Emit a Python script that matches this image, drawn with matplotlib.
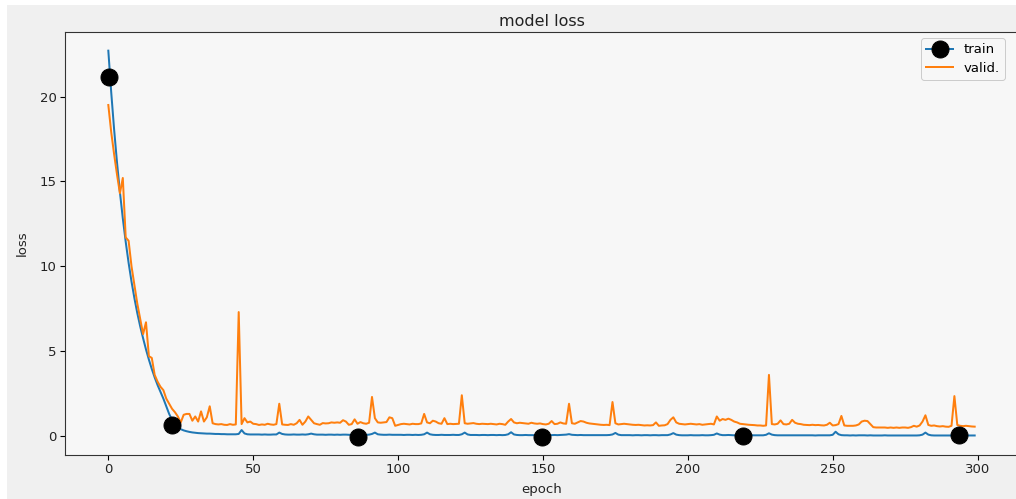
import numpy as np
import matplotlib
matplotlib.use('Agg')
import matplotlib.pyplot as plt
from matplotlib.lines import Line2D
from matplotlib.patches import Rectangle

# loss per epoch
train_loss = [
    22.7, 20.25, 18.06, 16.11, 14.37, 12.82, 11.44, 10.2, 9.1, 8.12,
    7.24, 6.46, 5.76, 5.1, 4.5, 3.95, 3.45, 3.0, 2.6, 2.2,
    1.75, 1.3, 0.95, 0.7, 0.52, 0.4, 0.33, 0.28, 0.24, 0.21,
    0.19, 0.17, 0.16, 0.15, 0.14, 0.14, 0.13, 0.12, 0.12, 0.11,
    0.11, 0.1, 0.1, 0.1, 0.1, 0.12, 0.35, 0.15, 0.1, 0.09,
    0.09, 0.09, 0.09, 0.08, 0.09, 0.08, 0.08, 0.09, 0.09, 0.2,
    0.12, 0.09, 0.08, 0.08, 0.09, 0.08, 0.08, 0.09, 0.08, 0.1,
    0.14, 0.1, 0.08, 0.08, 0.08, 0.07, 0.08, 0.08, 0.07, 0.08,
    0.07, 0.08, 0.08, 0.07, 0.07, 0.08, 0.07, 0.07, 0.08, 0.07,
    0.08, 0.12, 0.2, 0.1, 0.08, 0.07, 0.07, 0.08, 0.07, 0.07,
    0.07, 0.07, 0.06, 0.07, 0.07, 0.06, 0.07, 0.06, 0.07, 0.1,
    0.2, 0.1, 0.07, 0.06, 0.06, 0.07, 0.06, 0.06, 0.06, 0.07,
    0.06, 0.06, 0.1, 0.2, 0.09, 0.06, 0.06, 0.06, 0.05, 0.06,
    0.06, 0.05, 0.06, 0.06, 0.05, 0.06, 0.05, 0.06, 0.1, 0.22,
    0.09, 0.06, 0.05, 0.05, 0.06, 0.05, 0.05, 0.05, 0.06, 0.05,
    0.05, 0.06, 0.05, 0.05, 0.06, 0.05, 0.06, 0.07, 0.08, 0.11,
    0.07, 0.06, 0.05, 0.06, 0.05, 0.05, 0.05, 0.05, 0.05, 0.05,
    0.05, 0.05, 0.05, 0.06, 0.09, 0.18, 0.08, 0.05, 0.05, 0.05,
    0.05, 0.04, 0.05, 0.05, 0.04, 0.05, 0.05, 0.04, 0.05, 0.05,
    0.04, 0.05, 0.05, 0.05, 0.09, 0.17, 0.08, 0.05, 0.04, 0.04,
    0.04, 0.05, 0.04, 0.04, 0.04, 0.05, 0.04, 0.04, 0.05, 0.07,
    0.15, 0.08, 0.05, 0.05, 0.06, 0.05, 0.04, 0.04, 0.04, 0.04,
    0.04, 0.04, 0.04, 0.04, 0.04, 0.04, 0.04, 0.07, 0.16, 0.08,
    0.05, 0.04, 0.04, 0.04, 0.04, 0.04, 0.04, 0.04, 0.04, 0.04,
    0.04, 0.04, 0.04, 0.04, 0.03, 0.04, 0.04, 0.04, 0.04, 0.04,
    0.07, 0.25, 0.1, 0.05, 0.04, 0.04, 0.03, 0.04, 0.03, 0.04,
    0.04, 0.04, 0.03, 0.04, 0.03, 0.03, 0.03, 0.03, 0.04, 0.03,
    0.03, 0.03, 0.03, 0.03, 0.03, 0.03, 0.03, 0.03, 0.03, 0.03,
    0.04, 0.08, 0.2, 0.08, 0.04, 0.03, 0.03, 0.03, 0.03, 0.03,
    0.03, 0.03, 0.03, 0.03, 0.03, 0.03, 0.03, 0.03, 0.03, 0.03,
]

valid_loss = [
    19.5, 17.9, 16.6, 15.4, 14.3, 15.2, 11.7, 11.5, 10.0, 8.9,
    7.8, 6.9, 6.0, 6.7, 4.7, 4.6, 3.6, 3.2, 2.9, 2.7,
    2.2, 1.9, 1.6, 1.4, 1.15, 0.8, 1.25, 1.3, 1.3, 0.9,
    1.15, 0.85, 1.45, 0.85, 1.1, 1.75, 0.75, 0.7, 0.68, 0.7,
    0.66, 0.65, 0.7, 0.66, 0.68, 7.3, 0.7, 1.05, 0.8, 0.85,
    0.72, 0.7, 0.65, 0.68, 0.66, 0.72, 0.68, 0.66, 0.7, 1.9,
    0.68, 0.66, 0.65, 0.7, 0.66, 0.75, 0.95, 0.66, 0.85, 1.15,
    0.95, 0.75, 0.7, 0.66, 0.76, 0.74, 0.75, 0.8, 0.78, 0.8,
    0.78, 0.93, 0.85, 0.66, 0.7, 0.98, 0.72, 0.82, 0.75, 0.72,
    0.78, 2.3, 1.05, 0.8, 0.78, 0.8, 0.82, 1.1, 1.05, 0.6,
    0.65, 0.7, 0.72, 0.7, 0.68, 0.72, 0.7, 0.7, 0.74, 1.3,
    0.8, 0.75, 0.9, 0.85, 0.75, 0.72, 1.05, 0.7, 0.72, 0.7,
    0.71, 0.72, 2.4, 0.75, 0.72, 0.74, 0.76, 0.72, 0.7, 0.72,
    0.71, 0.7, 0.72, 0.7, 0.68, 0.72, 0.7, 0.66, 0.85, 1.0,
    0.8, 0.75, 0.78, 0.76, 0.74, 0.72, 0.78, 0.74, 0.72, 0.74,
    0.7, 0.68, 0.72, 0.88, 0.7, 0.72, 0.8, 0.74, 0.72, 1.9,
    0.75, 0.72, 0.8, 0.88, 0.85, 0.78, 0.74, 0.72, 0.7, 0.68,
    0.66, 0.65, 0.66, 0.64, 2.0, 0.75, 0.68, 0.7, 0.72, 0.7,
    0.68, 0.66, 0.65, 0.66, 0.64, 0.62, 0.63, 0.62, 0.64, 0.8,
    0.6, 0.62, 0.63, 0.7, 0.95, 1.1, 0.8, 0.72, 0.7, 0.68,
    0.7, 0.72, 0.7, 0.68, 0.7, 0.66, 0.68, 0.7, 0.72, 0.68,
    1.15, 0.9, 1.0, 0.95, 1.02, 0.95, 0.85, 0.8, 0.72, 0.7,
    0.68, 0.66, 0.65, 0.64, 0.62, 0.62, 0.6, 0.62, 3.6, 0.7,
    0.68, 0.72, 0.92, 0.7, 0.68, 0.72, 0.95, 0.78, 0.72, 0.7,
    0.66, 0.65, 0.64, 0.66, 0.64, 0.65, 0.63, 0.62, 0.66, 0.78,
    0.62, 0.64, 0.7, 1.18, 0.62, 0.6, 0.6, 0.6, 0.62, 0.68,
    0.85, 0.9, 0.88, 0.7, 0.52, 0.5, 0.5, 0.5, 0.5, 0.48,
    0.5, 0.48, 0.5, 0.48, 0.5, 0.5, 0.48, 0.52, 0.6, 0.55,
    0.62, 0.85, 1.22, 0.65, 0.6, 0.62, 0.58, 0.56, 0.58, 0.55,
    0.54, 0.6, 2.35, 0.65, 0.6, 0.58, 0.6, 0.58, 0.56, 0.55,
]

# the big black dots on the train curve
mark_epoch = [0.3, 22, 86.3, 149.5, 219, 293.5]
mark_loss = [21.15, 0.65, -0.04, -0.04, 0.0, 0.06]

epochs = np.arange(len(train_loss))

W, H = 1016, 499
fs = 13.3
fig = plt.figure(figsize=(W / 72, H / 72), dpi=72)
fig.patch.set_facecolor('white')
fig.add_artist(Rectangle((7 / W, 0), 1, 1 - 5 / H, transform=fig.transFigure,
                         facecolor='#f0f0f0', edgecolor='none', zorder=-1))

ax = fig.add_axes([65 / W, 44 / H, 953 / W, 423 / H])
ax.set_facecolor('#f7f7f7')

ax.plot(epochs, train_loss, color='tab:blue', lw=2)
ax.plot(epochs, valid_loss, color='tab:orange', lw=2)
ax.plot(mark_epoch, mark_loss, 'o', color='black', markersize=17, zorder=3)

ax.set_xlim(-14.95, 313.95)
ax.set_ylim(-1.12, 23.8)
ax.set_xticks([0, 50, 100, 150, 200, 250, 300])
ax.set_yticks([0, 5, 10, 15, 20])
ax.tick_params(labelsize=fs, length=4.7, width=1.1, labelcolor='#222222')
for s in ax.spines.values():
    s.set_linewidth(1.1)
    s.set_color('#333333')

ax.set_title('model loss', fontsize=16, color='#222222')
ax.set_xlabel('epoch', fontsize=fs, labelpad=7, color='#222222')
ax.set_ylabel('loss', fontsize=fs, labelpad=11, color='#222222')

handles = [Line2D([], [], color='tab:blue', lw=2, marker='o', markersize=17,
                  markerfacecolor='black', markeredgecolor='black'),
           Line2D([], [], color='tab:orange', lw=2)]
leg = ax.legend(handles, ['train', 'valid.'], loc='upper right',
                bbox_to_anchor=(1005 / W, 1 - 38 / H),
                bbox_transform=fig.transFigure, borderaxespad=0,
                fontsize=fs, handlelength=2, labelspacing=0.4,
                borderpad=0.4, facecolor='#f7f7f7', framealpha=1)

fig.savefig('out.png', dpi=72, facecolor=fig.get_facecolor())
